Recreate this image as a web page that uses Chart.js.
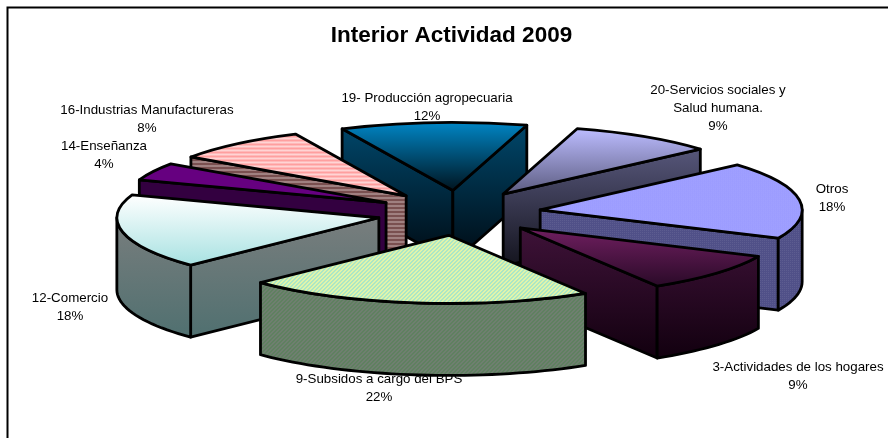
<!DOCTYPE html>
<html>
<head>
<meta charset="utf-8">
<style>html,body{margin:0;padding:0;background:#fff}#w{width:888px;height:438px}</style>
<script src="https://cdn.jsdelivr.net/npm/chart.js@4"></script>
</head>
<body>
<div id="w"><canvas id="c" width="888" height="438"></canvas></div>
<script>
const categories = ["19- Producción agropecuaria","20-Servicios sociales y|Salud humana.","Otros","3-Actividades de los hogares","9-Subsidos a cargo del BPS","12-Comercio","14-Enseñanza","16-Industrias Manufactureras"];
const values = [11.5,9,18.3,9.4,21.5,17.7,4.2,8.4];
const percentLabels = ["12%","9%","18%","9%","22%","18%","4%","8%"];
const labelX = [427,718,832,798,379,70,104,147];
const labelY = [98,90,189,367,379,298,146,110];
const drawOrder = [0,1,7,6,2,5,3,4];

const SQUASH = 0.26, EXPLODE = 82, EXPLODE_Y = 22.5, DEPTH = 72, RADIUS = 262, CY = 213, CX_SHIFT = 7.5;

function pattern(ctx, w, h, fn, yScale){
  const p = document.createElement('canvas'); p.width = w; p.height = h;
  fn(p.getContext('2d'));
  const pat = ctx.createPattern(p, 'repeat');
  if (yScale) pat.setTransform(new DOMMatrix().scale(1, yScale));
  return pat;
}
function hatch(a, b){ return g => { g.fillStyle = a; g.fillRect(0,0,4,4); g.fillStyle = b;
  [[0,3],[1,3],[1,2],[2,2],[2,1],[3,1],[3,0],[0,0]].forEach(q => g.fillRect(q[0],q[1],1,1)); }; }
function dots(a, b){ return g => { g.fillStyle = a; g.fillRect(0,0,2,2); g.fillStyle = b; g.fillRect(0,0,1,1); }; }
function stripes(a, b){ return g => { g.fillStyle = a; g.fillRect(0,0,2,4); g.fillStyle = b; g.fillRect(0,1,2,2); }; }
function vgrad(ctx, y0, y1, c0, c1){ const g = ctx.createLinearGradient(0,y0,0,y1); g.addColorStop(0,c0); g.addColorStop(1,c1); return g; }

const topStyle = [
  (c,a,b)=>vgrad(c,a,b,'#0085c4','#00141f'),
  (c,a,b)=>vgrad(c,a,b,'#bcbcff','#5c5c80'),
  (c)=>pattern(c,2,2,dots('#9a9aff','#a9a9ff'),1/SQUASH),
  (c,a,b)=>vgrad(c,a,b,'#701f60','#2a0a28'),
  (c)=>pattern(c,4,4,hatch('#e6f5a8','#a6e6c8'),1/SQUASH),
  (c,a,b)=>vgrad(c,a,b,'#ffffff','#a8e2e2'),
  (c)=>'#660080',
  (c)=>pattern(c,2,4,stripes('#ff9f9f','#ffd4d4'),1/SQUASH)
];
const wallStyle = [
  (c,a,b)=>vgrad(c,a,b,'#00486c','#000a12'),
  (c,a,b)=>vgrad(c,a,b,'#62628a','#14141e'),
  (c)=>pattern(c,2,2,dots('#505088','#5c5c90')),
  (c,a,b)=>vgrad(c,a,b,'#3e1238','#12000f'),
  (c)=>pattern(c,4,4,hatch('#5f8060','#6f7f70')),
  (c,a,b)=>vgrad(c,a,b,'#808080','#507070'),
  (c)=>'#330040',
  (c)=>pattern(c,2,4,stripes('#7a5050','#a08080'))
];

function geom(arc){
  const m = (arc.startAngle + arc.endAngle) / 2;
  const cx = arc.x + CX_SHIFT + Math.cos(m) * EXPLODE, cy = CY + Math.sin(m) * EXPLODE_Y;
  const R = arc.outerRadius, Ry = R * SQUASH;
  const pt = a => [cx + Math.cos(a)*R, cy + Math.sin(a)*Ry];
  return {cx, cy, R, Ry, pt, s: arc.startAngle, e: arc.endAngle};
}
function slicePath(ctx, g){
  ctx.beginPath();
  ctx.moveTo(g.cx, g.cy);
  ctx.ellipse(g.cx, g.cy, g.R, g.Ry, 0, g.s, g.e);
  ctx.closePath();
}
function wall(ctx, pts, style){
  ctx.beginPath();
  pts.forEach((p,i)=> i ? ctx.lineTo(p[0],p[1]) : ctx.moveTo(p[0],p[1]));
  ctx.closePath();
  ctx.fillStyle = style; ctx.fill(); ctx.stroke();
}
function yRange(g){
  const ys = [g.cy, g.pt(g.s)[1], g.pt(g.e)[1]];
  for (let a = Math.ceil(g.s/(Math.PI/2))*(Math.PI/2); a < g.e; a += Math.PI/2) ys.push(g.pt(a)[1]);
  return [Math.min(...ys), Math.max(...ys)];
}
function drawWalls(ctx, i, g){
  const ps = g.pt(g.s), pe = g.pt(g.e);
  const r = yRange(g);
  const st = wallStyle[i](ctx, r[0], r[1] + DEPTH);
  const step = Math.PI/90;
  if (Math.cos(g.s) < 0) wall(ctx, [[g.cx,g.cy],ps,[ps[0],ps[1]+DEPTH],[g.cx,g.cy+DEPTH]], st);
  if (Math.cos(g.e) > 0) wall(ctx, [[g.cx,g.cy],pe,[pe[0],pe[1]+DEPTH],[g.cx,g.cy+DEPTH]], st);
  // curved outer face: only the part on the near half of the rim
  const twoPi = Math.PI*2;
  for (let k = -1; k <= 2; k++){
    const a0 = Math.max(g.s, k*twoPi), a1 = Math.min(g.e, k*twoPi + Math.PI);
    if (a1 <= a0) continue;
    const up = [], dn = [];
    for (let a = a0; ; a += step){ const t = Math.min(a,a1); const p = g.pt(t); up.push(p); dn.unshift([p[0],p[1]+DEPTH]); if (t >= a1) break; }
    wall(ctx, up.concat(dn), st);
  }
}
const pie3d = {
  id: 'pie3d',
  beforeDatasetDraw(chart){
    const ctx = chart.ctx, arcs = chart.getDatasetMeta(0).data;
    ctx.save();
    ctx.lineWidth = 2; ctx.strokeStyle = '#000';
    ctx.beginPath(); ctx.moveTo(7.5,438); ctx.lineTo(7.5,7.5); ctx.lineTo(888,7.5); ctx.stroke();
    ctx.fillStyle = '#000'; ctx.textAlign = 'center'; ctx.textBaseline = 'middle';
    ctx.font = '13.33px "Liberation Sans", Arial, sans-serif';
    categories.forEach((name,i)=>{
      const lines = name.split('|').concat(percentLabels[i]);
      lines.forEach((t,k)=>ctx.fillText(t, labelX[i], labelY[i] + k*18));
    });
    ctx.lineJoin = 'round';
    drawOrder.forEach(i=>{
      const arc = arcs[i], g = geom(arc);
      ctx.lineWidth = 2.8; ctx.strokeStyle = '#000';
      drawWalls(ctx, i, g);
      // top face: the library's own arc, flattened and moved out from the centre
      const r = yRange(g);
      const ly0 = (r[0]-g.cy)/SQUASH + arc.y, ly1 = (r[1]-g.cy)/SQUASH + arc.y;
      const saved = arc.options;
      arc.options = Object.assign({}, saved, {backgroundColor: topStyle[i](ctx, ly0, ly1), borderWidth: 0, offset: 0});
      ctx.save();
      ctx.translate(g.cx, g.cy);
      ctx.scale(1, SQUASH);
      ctx.translate(-arc.x, -arc.y);
      arc.draw(ctx);
      ctx.restore();
      arc.options = saved;
      ctx.lineWidth = 2.8; ctx.strokeStyle = '#000';
      slicePath(ctx, g); ctx.stroke();
    });
    ctx.restore();
    return false;
  }
};
new Chart(document.getElementById('c'), {
  type: 'pie',
  data: { labels: categories.map(s=>s.replace('|',' ')), datasets: [{ data: values, borderWidth: 0 }] },
  options: {
    responsive: false, animation: false,
    rotation: -25,
    radius: RADIUS,
    layout: { padding: { left: 15, right: 0, top: 0, bottom: 0 } },
    plugins: {
      legend: { display: false }, tooltip: { enabled: false },
      title: { display: true, text: 'Interior Actividad 2009', color: '#000', align: 'center',
        font: { family: '"Liberation Sans", Arial, sans-serif', size: 22.5, weight: 'bold' },
        padding: { top: 22, bottom: 0 } }
    }
  },
  plugins: [pie3d]
});
</script>
</body>
</html>
